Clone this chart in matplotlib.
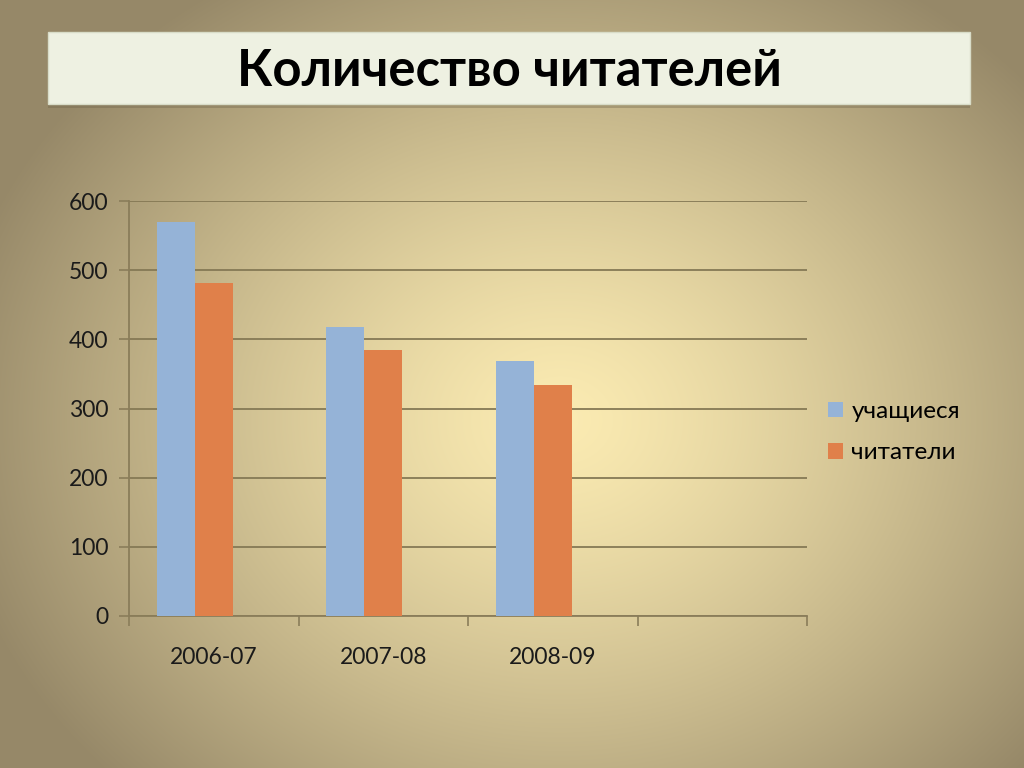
import matplotlib.pyplot as plt
import numpy as np
from matplotlib.patches import FancyBboxPatch

years = ['2006-07', '2007-08', '2008-09', '']
students = [570, 418, 368, np.nan]
readers = [481, 384, 334, np.nan]
series_names = ['учащиеся', 'читатели']
colors = ['#95b3d7', '#e0804a']
title = 'Количество читателей'

plt.rcParams['font.family'] = ['Lato', 'DejaVu Sans']

fig = plt.figure(figsize=(10.24, 7.68), dpi=100)

# background radial gradient
bg = fig.add_axes([0, 0, 1, 1], zorder=-10)
yy, xx = np.mgrid[0:768, 0:1024]
r = np.sqrt(((xx - 560) / 620.0) ** 2 + ((yy - 420) / 520.0) ** 2)
r = np.clip(r, 0, 1)
c0 = np.array([251, 235, 178]) / 255.0
c1 = np.array([150, 136, 104]) / 255.0
t = r[..., None] ** 1.3
img = c0 * (1 - t) + c1 * t
bg.imshow(img, extent=[0, 1, 0, 1], aspect='auto', origin='upper')
bg.axis('off')

# title box
shadow = FancyBboxPatch((48 / 1024, 1 - 108 / 768), 922 / 1024, 72 / 768,
                        boxstyle='square,pad=0', transform=fig.transFigure,
                        facecolor='#6b6048', edgecolor='none', alpha=0.35, zorder=1)
fig.patches.append(shadow)
box = FancyBboxPatch((48 / 1024, 1 - 104 / 768), 922 / 1024, 72 / 768,
                     boxstyle='square,pad=0', transform=fig.transFigure,
                     facecolor='#eef1e2', edgecolor='#d8dcc8', linewidth=1, zorder=2)
fig.patches.append(box)
fig.text(509 / 1024, 1 - 71 / 768, title, ha='center', va='center',
         fontsize=36.5, fontweight='bold', color='black', zorder=3)

ax = fig.add_axes([129 / 1024, 1 - 616 / 768, 678 / 1024, 415 / 768])
ax.patch.set_alpha(0)

x = np.arange(len(years))
w = 0.225
ax.bar(x - w, students, w, color=colors[0], label=series_names[0], zorder=3)
ax.bar(x, readers, w, color=colors[1], label=series_names[1], zorder=3)

ax.set_xlim(-0.5, 3.5)
ax.set_ylim(0, 600)
ax.set_yticks(range(0, 601, 100))
ax.set_xticks(x)
ax.set_xticklabels(years)
ax.set_xticks(np.arange(-0.5, 4.0, 1), minor=True)
ax.tick_params(axis='x', which='major', length=0, pad=22, labelsize=16.5, colors='#1a1a1a')
ax.tick_params(axis='x', which='minor', length=7, width=1.2, color='#8a7d5a', direction='out')
ax.tick_params(axis='y', length=7, width=1.2, color='#8a7d5a', labelsize=16.5,
               labelcolor='#1a1a1a', pad=8)

ax.yaxis.grid(True, color='#857955', linewidth=1.3, zorder=0)
ax.set_axisbelow(True)
for s in ['top', 'right']:
    ax.spines[s].set_visible(False)
for s in ['left', 'bottom']:
    ax.spines[s].set_color('#8a7d5a')
    ax.spines[s].set_linewidth(1.3)

ax.legend(loc='center left', bbox_to_anchor=(1.01, 0.443), frameon=False,
          fontsize=17.5, handlelength=0.6, handleheight=0.6, handletextpad=0.35,
          labelspacing=0.85, borderaxespad=0.2)

fig.savefig('out.png', dpi=100)
